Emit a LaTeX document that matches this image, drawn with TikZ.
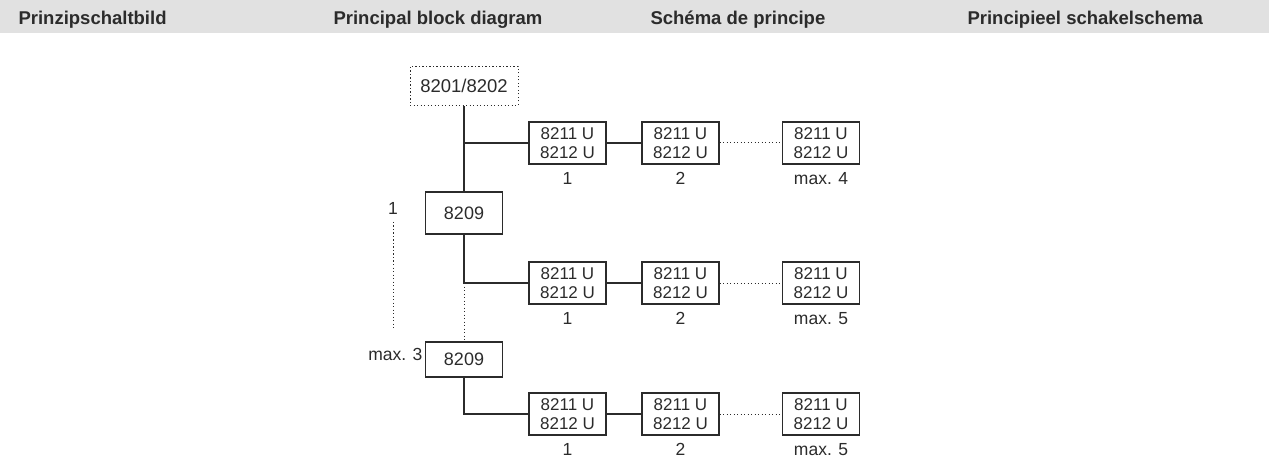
\documentclass[tikz,border=0pt]{standalone}
\usepackage{fontspec}
\setmainfont{Liberation Sans}
\definecolor{hdrgray}{HTML}{E1E1E1}
\definecolor{ink}{HTML}{2B2B2B}
\begin{document}
\begin{tikzpicture}[x=1pt,y=-1pt,
  line width=1.1pt,
  every node/.style={text=ink},
  hdr/.style={anchor=base west,inner sep=0pt,font=\fontsize{18.5}{20}\selectfont\bfseries},
  unit/.style={draw=ink,minimum width=77pt,minimum height=42pt,inner sep=0pt,align=center,font=\fontsize{17}{19}\selectfont},
  ctrl/.style={draw=ink,minimum width=77pt,inner sep=0pt,font=\fontsize{18}{20}\selectfont},
  lbl/.style={inner sep=0pt,font=\fontsize{17.5}{19}\selectfont},
  dots/.style={draw=ink,line width=1pt,dash pattern=on 1.1pt off 2.4pt},
  wire/.style={draw=ink}]
\useasboundingbox (0,0) rectangle (1273,462);
\fill[hdrgray] (0,0) rectangle (1269,33);
\node[hdr] (h1) at (18,25) {Prinzipschaltbild};
\node[hdr] (h2) at (333,25) {Principal block diagram};
\node[hdr] (h3) at (650,25) {Schéma de principe};
\node[hdr] (h4) at (967,25) {Principieel schakelschema};

% trunk
\node[dots,minimum width=108pt,minimum height=39pt,inner sep=0pt,font=\fontsize{18.5}{20}\selectfont] (top) at (464,86) {8201/8202};
\node[ctrl,minimum height=42pt] (ca) at (464,213) {8209};
\node[ctrl,minimum height=35pt] (cb) at (464,359.5) {8209};

% row 1
\node[unit] (r1a) at (567.5,143) {8211 U\\8212 U};
\node[unit] (r1b) at (680.5,143) {8211 U\\8212 U};
\node[unit] (r1c) at (821,143) {8211 U\\8212 U};
% row 2
\node[unit] (r2a) at (567.5,283) {8211 U\\8212 U};
\node[unit] (r2b) at (680.5,283) {8211 U\\8212 U};
\node[unit] (r2c) at (821,283) {8211 U\\8212 U};
% row 3
\node[unit] (r3a) at (567.5,414) {8211 U\\8212 U};
\node[unit] (r3b) at (680.5,414) {8211 U\\8212 U};
\node[unit] (r3c) at (821,414) {8211 U\\8212 U};

% labels under boxes
\foreach \r/\m in {r1/4,r2/5,r3/5}{
  \node[lbl] (\r al) at ([yshift=-14pt]\r a.south) {1};
  \node[lbl] (\r bl) at ([yshift=-14pt]\r b.south) {2};
  \node[lbl] (\r cl) at ([yshift=-14pt]\r c.south) {max. \m};
}

% left side labels
\node[lbl] (n1) at (393,208) {1};
\node[lbl,anchor=east] (nmax) at (423,354) {max. 3};
\coordinate (d1) at (393,222);
\coordinate (d2) at (393,330);
\draw[dots] (d1) -- (d2);

% connectors
\draw[wire] (top.south) -- (ca.north);
\draw[wire] (top.south |- r1a.west) -- (r1a.west);
\draw[wire] (ca.south) |- (r2a.west);
\draw[dots] (ca.south |- r2a.west) -- (cb.north);
\draw[wire] (cb.south) |- (r3a.west);

\foreach \r in {r1,r2,r3}{
  \draw[wire] (\r a.east) -- (\r b.west);
  \draw[dots] (\r b.east) -- (\r c.west);
}
\end{tikzpicture}
\end{document}
